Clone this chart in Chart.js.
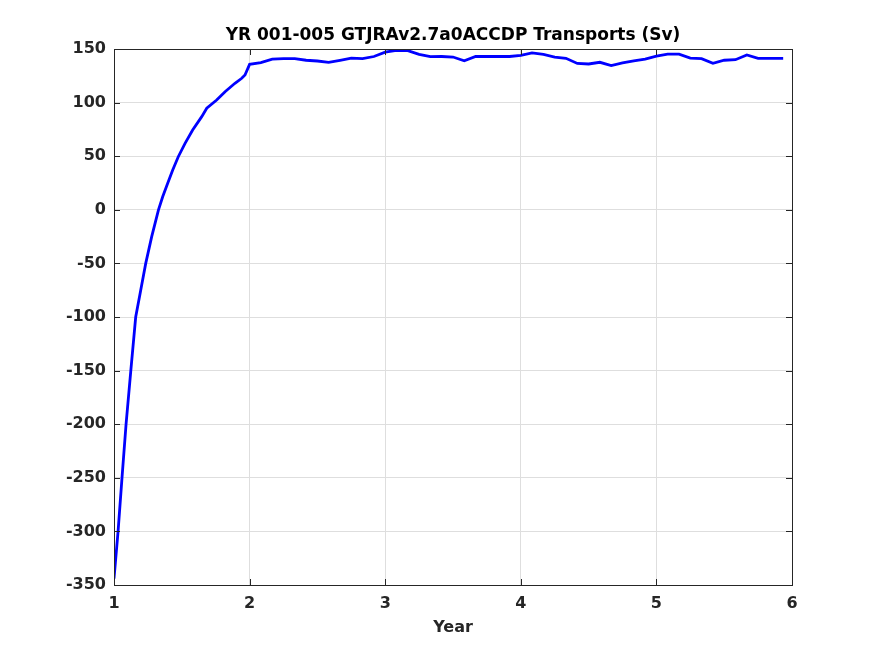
<!DOCTYPE html>
<html>
<head>
<meta charset="utf-8">
<script src="https://cdn.jsdelivr.net/npm/chart.js@4.4.1/dist/chart.umd.min.js"></script>
<style>
  html, body { margin: 0; padding: 0; background: #ffffff; }
  #wrap { width: 875px; height: 656px; position: relative; }
</style>
</head>
<body>
<div id="wrap"><canvas id="c" width="875" height="656"></canvas></div>
<script>
// ---- Data ----
const titleText = 'YR 001-005 GTJRAv2.7a0ACCDP Transports (Sv)';
const xLabel = 'Year';

const years = [
  1.000, 1.030, 1.059, 1.089, 1.124, 1.160, 1.197, 1.234, 1.278, 1.328,
  1.359, 1.396, 1.433, 1.474, 1.524, 1.580, 1.647, 1.684, 1.757, 1.819,
  1.892, 1.942, 1.966, 2.000,
  2.083, 2.167, 2.250, 2.333, 2.417, 2.500, 2.583, 2.667, 2.750, 2.833, 2.917,
  3.000, 3.083, 3.167, 3.250, 3.333, 3.417, 3.500, 3.583, 3.667, 3.750, 3.833, 3.917,
  4.000, 4.083, 4.167, 4.250, 4.333, 4.417, 4.500, 4.583, 4.667, 4.750, 4.833, 4.917,
  5.000, 5.083, 5.167, 5.250, 5.333, 5.417, 5.500, 5.583, 5.667, 5.750, 5.833, 5.935
];

const transports = [
  -344, -300, -250, -200, -150, -100, -75, -50, -25, 0,
  12.2, 24.7, 37.1, 49.5, 62, 74.4, 86.9, 94.7, 102.4, 110.2,
  118, 122.7, 125.7, 135.7,
  137.3, 140.5, 141, 141, 139.5, 138.8, 137.5, 139.5, 141.5, 141, 143,
  147, 148.8, 148.5, 145, 142.8, 143, 142.5, 139, 143, 143, 143, 143,
  144, 146.3, 145, 142.5, 141.3, 136.5, 136, 137.6, 134.5, 137, 139, 140.6,
  143.4, 145.2, 145.2, 141.5, 141, 136.6, 139.5, 140, 144.4, 141.3, 141.3, 141.3
];

const xTicks = [1, 2, 3, 4, 5, 6];
const yTicks = [-350, -300, -250, -200, -150, -100, -50, 0, 50, 100, 150];

const points = years.map((t, i) => ({ x: t, y: transports[i] }));

const textColor = '#262626';
const fontFamily = '"DejaVu Sans", sans-serif';

// Box, inward ticks (MATLAB style) and title centred over the plot area
const boxPlugin = {
  id: 'boxPlugin',
  afterDatasetsDraw(chart) {
    const { ctx, chartArea: a, scales } = chart;
    ctx.save();
    ctx.strokeStyle = textColor;
    ctx.lineWidth = 1;
    const tl = 6;
    ctx.beginPath();
    xTicks.forEach(v => {
      const px = Math.round(scales.x.getPixelForValue(v)) + 0.5;
      ctx.moveTo(px, a.bottom); ctx.lineTo(px, a.bottom - tl);
      ctx.moveTo(px, a.top); ctx.lineTo(px, a.top + tl);
    });
    yTicks.forEach(v => {
      const py = Math.round(scales.y.getPixelForValue(v)) + 0.5;
      ctx.moveTo(a.left, py); ctx.lineTo(a.left + tl, py);
      ctx.moveTo(a.right, py); ctx.lineTo(a.right - tl, py);
    });
    ctx.stroke();
    ctx.strokeRect(Math.round(a.left) + 0.5, Math.round(a.top) + 0.5,
                   Math.round(a.right - a.left), Math.round(a.bottom - a.top));
    // title
    ctx.fillStyle = '#000000';
    ctx.font = 'bold 17px ' + fontFamily;
    ctx.textAlign = 'center';
    ctx.textBaseline = 'middle';
    ctx.fillText(titleText, (a.left + a.right) / 2, 36);
    ctx.restore();
  }
};

new Chart(document.getElementById('c'), {
  type: 'line',
  data: {
    datasets: [{
      data: points,
      borderColor: '#0000ff',
      borderWidth: 2.8,
      pointRadius: 0,
      tension: 0,
      fill: false
    }]
  },
  options: {
    responsive: false,
    animation: false,
    devicePixelRatio: 1,
    layout: { padding: { left: 0, right: 83, top: 49, bottom: 0 } },
    plugins: {
      legend: { display: false },
      tooltip: { enabled: false },
      title: { display: false, text: titleText }
    },
    scales: {
      x: {
        type: 'linear',
        min: 1, max: 6,
        afterBuildTicks: s => { s.ticks = xTicks.map(v => ({ value: v })); },
        afterFit: s => { s.height = 71; },
        grid: { color: '#dedede', lineWidth: 1, drawTicks: false },
        border: { display: false },
        ticks: {
          color: textColor,
          padding: 9,
          font: { family: fontFamily, size: 16, weight: 'bold' },
          callback: v => String(v)
        },
        title: {
          display: true,
          text: xLabel,
          color: textColor,
          font: { family: fontFamily, size: 16, weight: 'bold', lineHeight: 1.2 },
          padding: { top: 0, bottom: 19 }
        }
      },
      y: {
        type: 'linear',
        min: -350, max: 150,
        afterBuildTicks: s => { s.ticks = yTicks.map(v => ({ value: v })); },
        afterFit: s => { s.width = 114; },
        grid: { color: '#dedede', lineWidth: 1, drawTicks: false },
        border: { display: false },
        ticks: {
          color: textColor,
          padding: 8,
          font: { family: fontFamily, size: 16, weight: 'bold' },
          callback: v => String(v)
        }
      }
    }
  },
  plugins: [boxPlugin]
});
</script>
</body>
</html>
